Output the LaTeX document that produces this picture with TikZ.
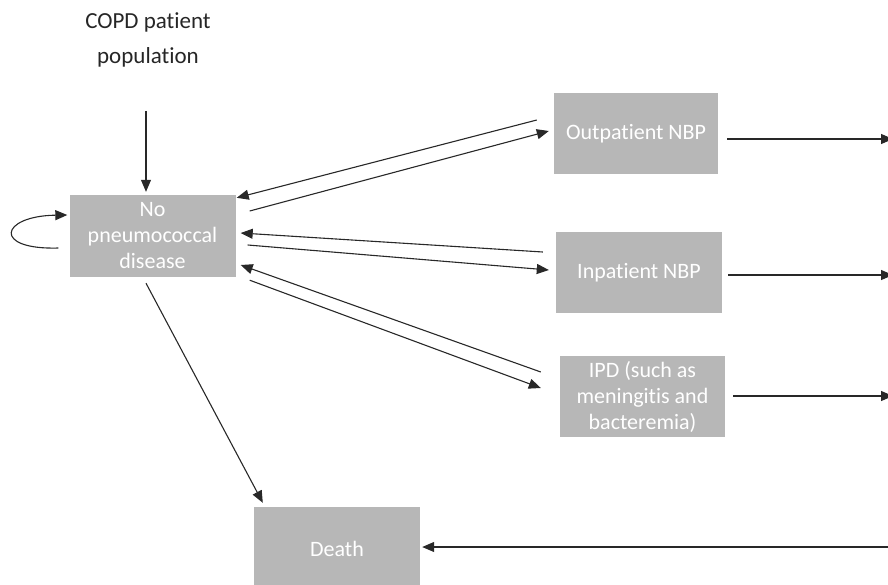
\documentclass[tikz,border=0pt]{standalone}
\usepackage{fontspec}
\setmainfont{Carlito}[Ligatures=NoCommon]
\usetikzlibrary{arrows.meta}
\definecolor{boxgray}{RGB}{183,183,183}
\definecolor{linecol}{RGB}{40,40,40}
\tikzset{
  statebox/.style={fill=boxgray,draw=none,minimum width=166pt,minimum height=82pt,inner sep=0pt,
    text=white,align=center,font=\fontsize{22}{26}\selectfont},
  arr/.style={draw=linecol,line width=1.1pt,-{Triangle[length=12pt,width=10pt]}}
}
\begin{document}
\begin{tikzpicture}[x=1pt,y=-1pt]
\useasboundingbox (0,0) rectangle (888,584);
\clip (0,0) rectangle (888,584);
\node[align=center,font=\fontsize{23}{35}\selectfont,text=black!85] (copd) at (148,40) {COPD patient\\population};
\node[statebox] (no) at (152.5,236) {No\\pneumococcal\\disease};
\node[statebox,minimum width=164pt,minimum height=81pt] (out) at (636,133.5) {Outpatient NBP};
\node[statebox,minimum width=166pt,minimum height=81pt] (in) at (639,272.5) {Inpatient NBP};
\node[statebox,minimum width=165pt,minimum height=81pt] (ipd) at (642.5,396.5) {IPD (such as\\meningitis and\\bacteremia)};
\node[statebox,minimum height=84pt] (death) at (337,549) {Death};
\coordinate (r1) at (893,139);
\coordinate (r2) at (893,275);
\coordinate (r3) at (893,396);
\coordinate (r4) at (900,547);
% entry
\draw[arr] (copd.south -| no.north) ++(-6.5,40) -- ([shift={(-6.5,-3)}]no.north);
% self loop
\draw[arr] ([shift={(-11,12)}]no.west) .. controls (-8,250) and (0,216) .. ([shift={(-2,-21)}]no.west);
% outpatient pair
\draw[arr] ([shift={(-17,-13.5)}]out.west) -- ([shift={(1,3)}]no.north east);
\draw[arr] ([shift={(14,-25)}]no.east) -- ([shift={(-5,-2.5)}]out.west);
% inpatient pair
\draw[arr] ([shift={(-13,-20.5)}]in.west) -- ([shift={(5,-3)}]no.east);
\draw[arr] ([shift={(12,9)}]no.east) -- ([shift={(-7,-2.5)}]in.west);
% IPD pair
\draw[arr] ([shift={(-19,-24.5)}]ipd.west) -- ([shift={(5,29)}]no.east);
\draw[arr] ([shift={(14,3)}]no.south east) -- ([shift={(-19,-8.5)}]ipd.west);
% death
\draw[arr] ([shift={(-6.5,6)}]no.south) -- ([shift={(9,-4)}]death.north west);
% outgoing
\draw[arr] ([shift={(9,5.5)}]out.east) -- (r1);
\draw[arr] ([shift={(6,2.5)}]in.east) -- (r2);
\draw[arr] ([shift={(8,-0.5)}]ipd.east) -- (r3);
\draw[arr] (r4) -- ([shift={(2,-2)}]death.east);
\end{tikzpicture}
\end{document}
